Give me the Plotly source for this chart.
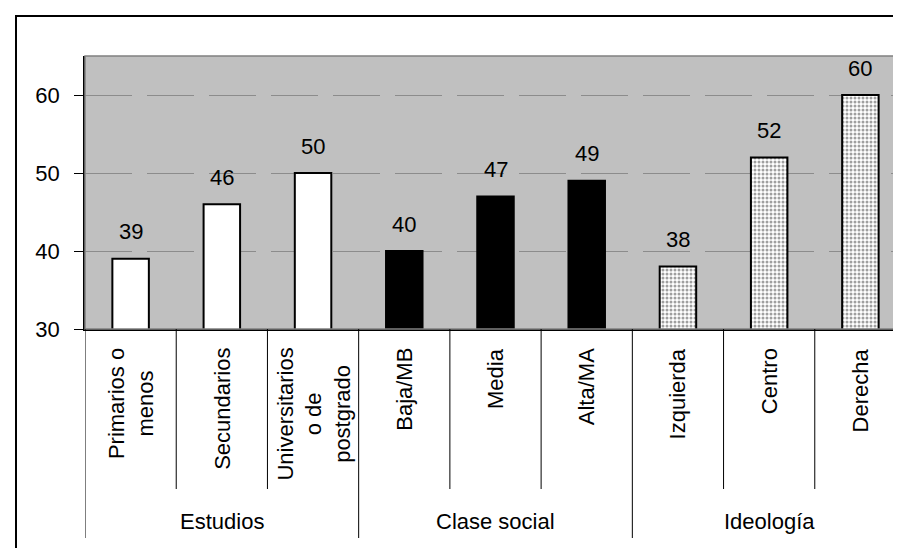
import plotly.graph_objects as go

# ---- data ----
groups = ["Estudios", "Clase social", "Ideología"]
categories_estudios = ["Primarios o<br>menos", "Secundarios", "Universitarios<br>o de<br>postgrado"]
values_estudios = [39, 46, 50]
categories_clase = ["Baja/MB", "Media", "Alta/MA"]
values_clase = [40, 47, 49]
categories_ideologia = ["Izquierda", "Centro", "Derecha"]
values_ideologia = [38, 52, 60]
y_ticks = [30, 40, 50, 60]

all_cats = categories_estudios + categories_clase + categories_ideologia
all_vals = values_estudios + values_clase + values_ideologia
cat_index = {c: i for i, c in enumerate(all_cats)}

# ---- layout constants (pixels) ----
W, H = 901, 548
PL, PR, PT, PB = 77, 898, 48, 321
FONT = "Liberation Sans, Arial, sans-serif"
FS = 22


def py(p):
    """pixel y -> paper y"""
    return (PB - p) / (PB - PT)


def px(p):
    return (p - PL) / (PR - PL)


fig = go.Figure()

line = dict(color="black", width=2)
fig.add_trace(go.Bar(x=[cat_index[c] for c in categories_estudios], y=values_estudios,
                     marker=dict(color="white", line=line), showlegend=False))
fig.add_trace(go.Bar(x=[cat_index[c] for c in categories_clase], y=values_clase,
                     marker=dict(color="black", line=line), showlegend=False))
fig.add_trace(go.Bar(x=[cat_index[c] for c in categories_ideologia], y=values_ideologia,
                     marker=dict(color="white", line=line,
                                 pattern=dict(shape=".", fgcolor="#404040", bgcolor="white",
                                              size=4, solidity=0.45)),
                     showlegend=False))

annotations = []
# value labels
for c, v in zip(all_cats, all_vals):
    annotations.append(dict(x=cat_index[c], y=v, xref="x", yref="y", text=str(v),
                            showarrow=False, yanchor="middle", yshift=27,
                            font=dict(family=FONT, size=FS, color="black")))
# rotated category labels
for c in all_cats:
    annotations.append(dict(x=cat_index[c], y=py(338), xref="x", yref="paper", text=c,
                            showarrow=False, textangle=-90, align="center",
                            xanchor="center", yanchor="top",
                            font=dict(family=FONT, size=FS, color="black")))
# group labels
group_members = [categories_estudios, categories_clase, categories_ideologia]
for g, members in zip(groups, group_members):
    xc = (cat_index[members[0]] + cat_index[members[-1]]) / 2
    annotations.append(dict(x=xc, y=py(513), xref="x", yref="paper", text=g,
                            showarrow=False, xanchor="center", yanchor="middle",
                            font=dict(family=FONT, size=FS, color="black")))

shapes = []
# plot area border (gray top/right)
shapes.append(dict(type="rect", xref="paper", yref="paper", x0=0, x1=1, y0=0, y1=1,
                   line=dict(color="#808080", width=1.5), layer="above"))
# category separators
for i in range(len(all_cats) + 1):
    is_group = i % 3 == 0
    shapes.append(dict(type="line", xref="x", yref="paper", x0=i - 0.5, x1=i - 0.5,
                       y0=0, y1=py(530 if is_group else 481),
                       line=dict(color="black", width=1)))
# outer frame
shapes.append(dict(type="rect", xref="paper", yref="paper",
                   x0=px(8), x1=px(W + 20), y0=py(H + 20), y1=py(8),
                   line=dict(color="black", width=2)))

fig.update_layout(
    width=W, height=H,
    margin=dict(l=PL, r=W - PR, t=PT, b=H - PB, pad=0),
    paper_bgcolor="white", plot_bgcolor="#c0c0c0",
    barmode="overlay", bargap=0.6,
    font=dict(family=FONT, size=FS, color="black"),
    annotations=annotations, shapes=shapes,
    xaxis=dict(range=[-0.5, len(all_cats) - 0.5], showticklabels=False, ticks="",
               showgrid=False, zeroline=False, showline=True, linecolor="black",
               linewidth=1.5, fixedrange=True),
    yaxis=dict(range=[30, 65], tickvals=y_ticks, ticks="outside", ticklen=9,
               tickcolor="black", tickwidth=1, showline=True, linecolor="black",
               linewidth=1.5, showgrid=True, gridcolor="#8c8c8c", gridwidth=1,
               griddash="47px,15px", zeroline=False, ticklabelstandoff=10,
               tickfont=dict(family=FONT, size=FS, color="black"), fixedrange=True),
)

fig.write_html("out.html")
